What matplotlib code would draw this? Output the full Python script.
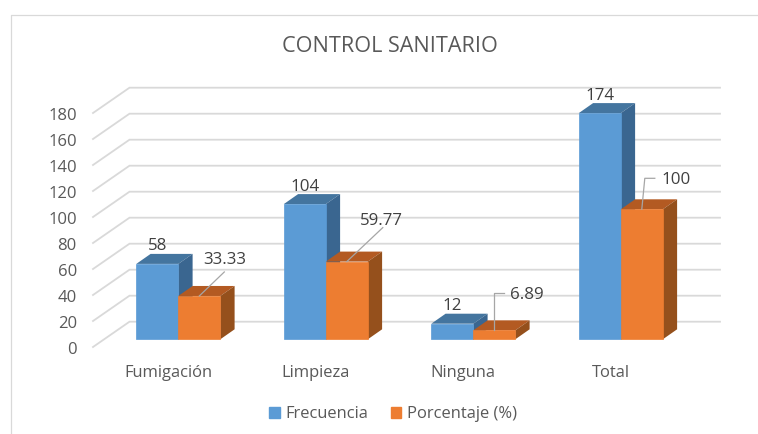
import matplotlib
matplotlib.use('Agg')
import matplotlib.pyplot as plt
from matplotlib.patches import Patch

plt.rcParams['font.family'] = ['Open Sans', 'DejaVu Sans']

categories = ['Fumigación', 'Limpieza', 'Ninguna', 'Total']
frecuencia = [58, 104, 12, 174]
porcentaje = [33.33, 59.77, 6.89, 100]
porcentaje_labels = ['33.33', '59.77', '6.89', '100']
y_ticks = list(range(0, 181, 20))

TEXT = '#595959'
LABEL = '#404040'
GRID = '#D9D9D9'
BLUE = ('#5B9BD5', '#44759F', '#3A6690')
ORANGE = ('#ED7D31', '#B35A22', '#95501C')

W, H = 758, 434
PX_X = 147.5   # pixels per category
PX_Y = 1.3     # pixels per value unit

# axes box in pixels, the floor of the bars is at y=339.3
fig = plt.figure(figsize=(W / 100, H / 100), dpi=100)
ax = fig.add_axes([93 / W, (H - 350) / H, (720 - 93) / W, (350 - 87.7) / H])
ax.set_xlim((93 - 168) / PX_X, (720 - 168) / PX_X)
ax.set_ylim(-10.7 / PX_Y, (339.3 - 87.7) / PX_Y)
for s in ax.spines.values():
    s.set_visible(False)

bar_w = 42 / PX_X
depth_x = 14.3 / PX_X
depth_y = 10 / PX_Y
group_off = -31.7 / PX_X
wall_x = 36.5 / PX_X
wall_y = 25.3 / PX_Y
floor_y = -7.7 / PX_Y
left_x = (93 - 168) / PX_X
right_x = (720 - 168) / PX_X

# back wall grid lines and the slanted side wall lines
for v in y_ticks:
    ax.plot([left_x, left_x + wall_x, right_x], [v + floor_y, v + floor_y + wall_y, v + floor_y + wall_y],
            color=GRID, lw=1.3, zorder=1, clip_on=False, solid_joinstyle='miter')


def bar3d(x, v, colors, z):
    front, top, side = colors
    ax.fill([x, x + depth_x, x + bar_w + depth_x, x + bar_w], [v, v + depth_y, v + depth_y, v],
            color=top, lw=0, zorder=z, clip_on=False)
    ax.fill([x + bar_w, x + bar_w + depth_x, x + bar_w + depth_x, x + bar_w], [0, depth_y, v + depth_y, v],
            color=side, lw=0, zorder=z, clip_on=False)
    ax.bar(x, v, width=bar_w, align='edge', color=front, edgecolor=front, lw=0.5, zorder=z + 0.5, clip_on=False)


def leader(x, v, pts):
    xs = [x] + [x + p[0] / PX_X for p in pts]
    ys = [v] + [v + p[1] / PX_Y for p in pts]
    ax.plot(xs, ys, color='#A6A6A6', lw=0.9, zorder=6, clip_on=False)


def label(x, v, txt, dx, dy):
    ax.annotate(txt, (x, v), xytext=(dx, dy), textcoords='offset pixels', ha='center', va='center',
                fontsize=12.2, color=LABEL, zorder=7, annotation_clip=False)


leaders = [[(25, 24)], [(36, 34)], [(0, 37), (10, 37)], [(3, 31), (13, 31)]]
text_off = [(25.4, 35.5), (34.5, 41), (33, 35.5), (34, 29.5)]

for i in range(len(categories)):
    x0 = i + group_off
    bar3d(x0, frecuencia[i], BLUE, 2)
    bar3d(x0 + bar_w, porcentaje[i], ORANGE, 4)
    label(x0 + bar_w / 2, frecuencia[i], str(frecuencia[i]), 0, 17.5)
    cx = x0 + bar_w * 1.5
    leader(cx, porcentaje[i], leaders[i])
    label(cx, porcentaje[i], porcentaje_labels[i], *text_off[i])

# y tick labels sit at the front corner of the side wall
ax.set_yticks([v + floor_y - 1.5 / PX_Y for v in y_ticks])
ax.set_yticklabels([str(v) for v in y_ticks])
ax.set_xticks(range(len(categories)))
ax.set_xticklabels(categories)
ax.tick_params(axis='y', length=0, pad=15.5 * 0.72 + 0.5, labelcolor=TEXT, labelsize=12)
ax.tick_params(axis='x', length=0, pad=(370 - 347 - 8) * 0.72, labelcolor=TEXT, labelsize=11.9)

fig.text(389.5 / W, 1 - 47 / H, 'CONTROL SANITARIO', ha='center', va='center', fontsize=15.6, color=TEXT)

handles = [Patch(color=BLUE[0], label='Frecuencia'), Patch(color=ORANGE[0], label='Porcentaje (%)')]
fig.legend(handles=handles, ncol=2, loc='center', bbox_to_anchor=(393 / W, 1 - 414.5 / H), frameon=False,
           fontsize=11.9, labelcolor=TEXT, handlelength=0.63, handleheight=0.63, handletextpad=0.33,
           columnspacing=1.4, borderpad=0)

# chart border: only the top and left edges are in the crop
fig.add_artist(plt.Line2D([10.5 / W, 10.5 / W, 757 / W], [0, 1 - 14.5 / H, 1 - 14.5 / H], color=GRID, lw=0.9))

fig.savefig('out.png', dpi=100)
